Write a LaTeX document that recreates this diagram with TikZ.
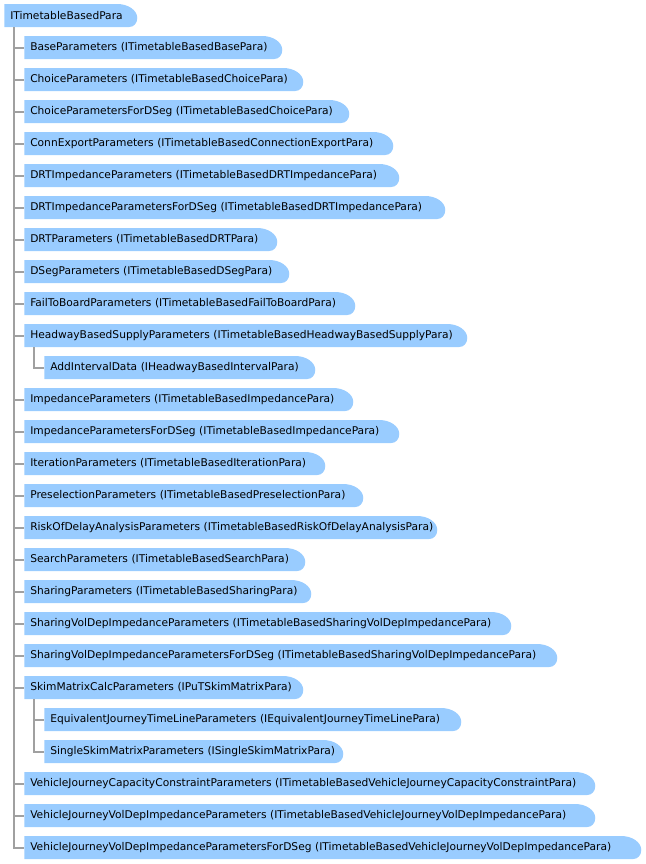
\documentclass[tikz,border=0pt]{standalone}
\usepackage{fontspec}
\setmainfont{DejaVu Sans}
\definecolor{tabblue}{RGB}{153,204,255}
\definecolor{linegray}{RGB}{160,160,160}
\begin{document}
\begin{tikzpicture}[x=0.75pt,y=-0.75pt,
  tab/.style={anchor=west, minimum height=17.25pt, inner xsep=4.5pt, inner ysep=0pt,
    text width=#1, align=left, font=\fontsize{8pt}{9pt}\selectfont,
    execute at begin node=\hbox\bgroup, execute at end node=\egroup,
    path picture={\fill[tabblue] (path picture bounding box.north west)
      -- ([xshift=-15pt]path picture bounding box.north east)
      .. controls ([xshift=-6.75pt]path picture bounding box.north east) and ([yshift=-4.7pt]path picture bounding box.north east)
      .. ([yshift=-10.5pt]path picture bounding box.north east)
      .. controls ([yshift=2.7pt]path picture bounding box.south east) and ([xshift=-2.7pt]path picture bounding box.south east)
      .. ([xshift=-6pt]path picture bounding box.south east)
      -- (path picture bounding box.south west) -- cycle;}},
  conn/.style={draw=linegray, line width=1.5pt}]
\useasboundingbox (0,0) rectangle (646,864);
\node[tab=90.75pt] (root) at (4,15.5) {ITimetableBasedPara};
\node[tab=184.5pt] (n1) at (24,47.5) {BaseParameters (ITimetableBasedBasePara)};
\node[tab=200.25pt] (n2) at (24,79.5) {ChoiceParameters (ITimetableBasedChoicePara)};
\node[tab=234.75pt] (n3) at (24,111.5) {ChoiceParametersForDSeg (ITimetableBasedChoicePara)};
\node[tab=267.75pt] (n4) at (24,143.5) {ConnExportParameters (ITimetableBasedConnectionExportPara)};
\node[tab=272.25pt] (n5) at (24,175.5) {DRTImpedanceParameters (ITimetableBasedDRTImpedancePara)};
\node[tab=306.75pt] (n6) at (24,207.5) {DRTImpedanceParametersForDSeg (ITimetableBasedDRTImpedancePara)};
\node[tab=180.75pt] (n7) at (24,239.5) {DRTParameters (ITimetableBasedDRTPara)};
\node[tab=189.75pt] (n8) at (24,271.5) {DSegParameters (ITimetableBasedDSegPara)};
\node[tab=239.25pt] (n9) at (24,303.5) {FailToBoardParameters (ITimetableBasedFailToBoardPara)};
\node[tab=323.25pt] (n10) at (24,335.5) {HeadwayBasedSupplyParameters (ITimetableBasedHeadwayBasedSupplyPara)};
\node[tab=194.25pt] (n11) at (44,367.5) {AddIntervalData (IHeadwayBasedIntervalPara)};
\node[tab=237.75pt] (n12) at (24,399.5) {ImpedanceParameters (ITimetableBasedImpedancePara)};
\node[tab=272.25pt] (n13) at (24,431.5) {ImpedanceParametersForDSeg (ITimetableBasedImpedancePara)};
\node[tab=216.75pt] (n14) at (24,463.5) {IterationParameters (ITimetableBasedIterationPara)};
\node[tab=245.25pt] (n15) at (24,495.5) {PreselectionParameters (ITimetableBasedPreselectionPara)};
\node[tab=300.75pt] (n16) at (24,527.5) {RiskOfDelayAnalysisParameters (ITimetableBasedRiskOfDelayAnalysisPara)};
\node[tab=201.75pt] (n17) at (24,559.5) {SearchParameters (ITimetableBasedSearchPara)};
\node[tab=206.25pt] (n18) at (24,591.5) {SharingParameters (ITimetableBasedSharingPara)};
\node[tab=356.25pt] (n19) at (24,623.5) {SharingVolDepImpedanceParameters (ITimetableBasedSharingVolDepImpedancePara)};
\node[tab=390.75pt] (n20) at (24,655.5) {SharingVolDepImpedanceParametersForDSeg (ITimetableBasedSharingVolDepImpedancePara)};
\node[tab=200.25pt] (n21) at (24,687.5) {SkimMatrixCalcParameters (IPuTSkimMatrixPara)};
\node[tab=303.75pt] (n22) at (44,719.5) {EquivalentJourneyTimeLineParameters (IEquivalentJourneyTimeLinePara)};
\node[tab=215.25pt] (n23) at (44,751.5) {SingleSkimMatrixParameters (ISingleSkimMatrixPara)};
\node[tab=419.25pt] (n24) at (24,783.5) {VehicleJourneyCapacityConstraintParameters (ITimetableBasedVehicleJourneyCapacityConstraintPara)};
\node[tab=419.25pt] (n25) at (24,815.5) {VehicleJourneyVolDepImpedanceParameters (ITimetableBasedVehicleJourneyVolDepImpedancePara)};
\node[tab=453.75pt] (n26) at (24,847.5) {VehicleJourneyVolDepImpedanceParametersForDSeg (ITimetableBasedVehicleJourneyVolDepImpedancePara)};
\foreach \c in {n1,n2,n3,n4,n5,n6,n7,n8,n9,n10,n12,n13,n14,n15,n16,n17,n18,n19,n20,n21,n24,n25,n26}
  \draw[conn] ([xshift=7.5pt]root.south west) |- (\c.west);
\draw[conn] ([xshift=7.5pt]n10.south west) |- (n11.west);
\foreach \c in {n22,n23}
  \draw[conn] ([xshift=7.5pt]n21.south west) |- (\c.west);
\end{tikzpicture}
\end{document}
